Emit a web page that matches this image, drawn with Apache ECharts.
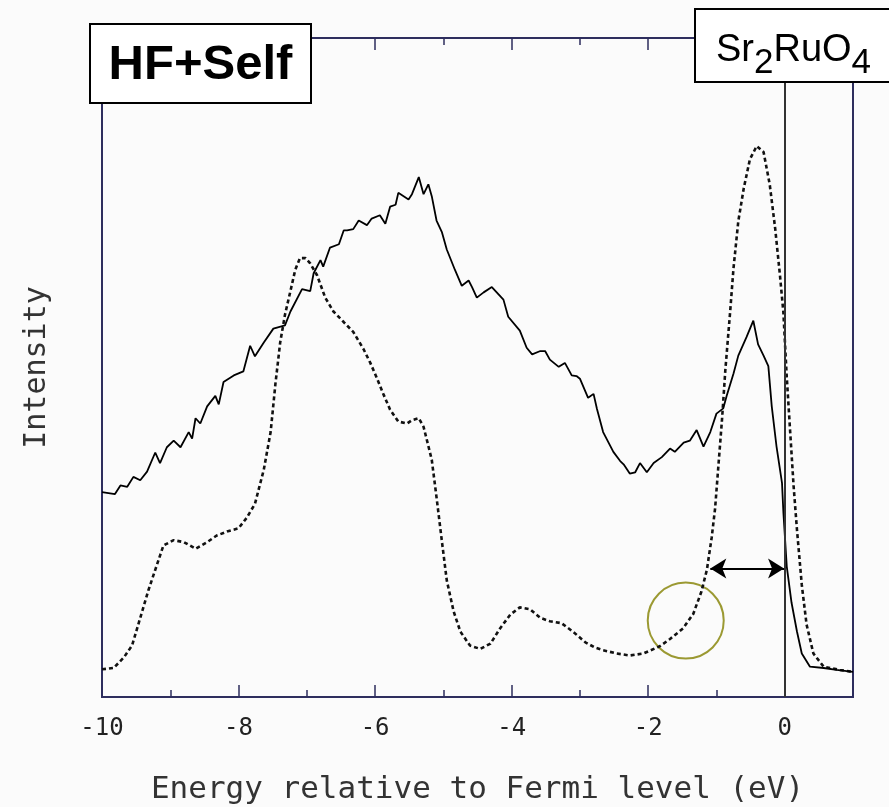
<!DOCTYPE html>
<html>
<head>
<meta charset="utf-8">
<script src="https://cdn.jsdelivr.net/npm/echarts@6/dist/echarts.min.js"></script>
<style>
html,body{margin:0;padding:0;background:#fbfbfb;}
#chart{width:889px;height:807px;}
</style>
</head>
<body>
<div id="chart"></div>
<script>
// Solid curve (experiment)
var solidX = [-10.0,-9.81,-9.73,-9.63,-9.54,-9.44,-9.34,-9.22,-9.15,-9.05,-8.95,-8.85,-8.73,-8.68,-8.63,-8.56,-8.46,-8.34,-8.29,-8.22,-8.07,-7.93,-7.83,-7.76,-7.63,-7.49,-7.32,-7.24,-7.07,-6.95,-6.90,-6.80,-6.76,-6.66,-6.53,-6.46,-6.41,-6.32,-6.24,-6.12,-6.05,-5.93,-5.85,-5.78,-5.70,-5.66,-5.51,-5.46,-5.36,-5.29,-5.22,-5.17,-5.10,-5.02,-4.95,-4.83,-4.73,-4.63,-4.58,-4.51,-4.41,-4.29,-4.12,-4.05,-3.88,-3.78,-3.70,-3.58,-3.51,-3.44,-3.31,-3.22,-3.12,-3.05,-3.00,-2.88,-2.80,-2.75,-2.66,-2.51,-2.41,-2.36,-2.27,-2.19,-2.12,-2.02,-1.92,-1.80,-1.68,-1.61,-1.48,-1.39,-1.29,-1.19,-1.09,-1.00,-0.90,-0.85,-0.75,-0.68,-0.56,-0.46,-0.39,-0.31,-0.24,-0.19,-0.12,-0.04,-0.02,0.03,0.10,0.18,0.25,0.37,0.57,0.76,1.00];
var solidY = [31.1,30.8,32.1,31.9,33.4,32.9,34.2,37.1,35.5,37.9,38.9,37.9,40.2,39.2,42.3,41.5,44.1,45.7,44.4,47.8,48.8,49.4,53.3,51.7,53.8,55.9,56.4,58.5,61.9,61.6,64.3,66.3,65.3,68.2,68.7,70.8,70.8,71.0,72.3,71.6,72.6,73.1,71.8,74.4,74.7,76.5,75.5,76.3,78.9,76.3,77.8,76.0,72.3,70.5,67.9,64.8,62.4,63.2,62.2,60.6,61.4,62.2,60.3,57.7,55.6,53.0,52.0,52.5,52.5,51.2,50.1,50.7,48.8,48.7,48.3,45.4,46.0,43.7,40.2,37.2,35.8,35.3,33.9,34.1,35.5,34.1,35.5,36.4,37.7,37.2,38.6,38.9,40.5,38.0,40.2,43.0,43.8,45.7,49.1,51.8,54.6,57.1,53.5,51.8,50.2,44.1,38.0,32.5,28.1,19.8,14.3,9.9,6.6,4.6,4.4,4.1,3.8];

// Dotted curve (calculation)
var dotX = [-10.0,-9.83,-9.68,-9.56,-9.44,-9.32,-9.22,-9.10,-8.95,-8.80,-8.63,-8.46,-8.32,-8.17,-8.00,-7.88,-7.76,-7.63,-7.53,-7.46,-7.39,-7.32,-7.24,-7.17,-7.10,-7.02,-6.95,-6.85,-6.73,-6.61,-6.46,-6.32,-6.17,-6.07,-5.97,-5.88,-5.78,-5.66,-5.53,-5.46,-5.36,-5.29,-5.22,-5.17,-5.10,-5.02,-4.95,-4.85,-4.75,-4.61,-4.46,-4.31,-4.17,-4.02,-3.88,-3.73,-3.58,-3.44,-3.27,-3.10,-2.92,-2.78,-2.66,-2.46,-2.27,-2.07,-1.83,-1.68,-1.49,-1.34,-1.22,-1.14,-1.07,-1.02,-0.97,-0.92,-0.87,-0.80,-0.75,-0.68,-0.60,-0.51,-0.41,-0.31,-0.22,-0.14,-0.07,-0.02,0.03,0.08,0.13,0.18,0.25,0.32,0.42,0.57,0.81,1.00];
var dotY = [4.2,4.4,6.0,7.8,12.0,16.2,19.3,23.0,23.8,23.5,22.5,23.5,24.5,25.1,25.6,27.2,29.3,34.5,40.2,47.5,53.8,58.0,61.6,64.8,66.6,66.6,65.8,64.0,60.6,58.5,56.9,55.4,52.8,50.7,48.3,46.0,43.6,41.8,41.5,42.0,42.3,41.0,38.1,36.0,30.3,23.5,17.7,13.0,9.9,7.8,7.3,8.1,10.4,12.5,13.6,13.3,12.0,11.5,11.2,9.9,8.3,7.5,7.1,6.6,6.3,6.6,7.7,8.8,10.4,12.6,16.0,19.3,24.2,28.6,35.3,41.9,49.6,58.4,65.1,72.2,77.2,81.6,83.6,82.7,77.8,71.1,64.0,58.4,48.5,40.2,32.0,25.3,17.0,11.0,6.6,4.6,4.1,3.8];

// Axis ticks
var xMin = -10, xMax = 1;
var xLabelValues = [-10, -8, -6, -4, -2, 0];

// Annotations (data units)
var fermiX = 0;
var arrowFrom = [-1.09, 19.5];
var arrowTo = [-0.01, 19.5];
var circlePoint = [-1.45, 11.6];

var texts = {
  xName: 'Energy relative to Fermi level (eV)',
  yName: 'Intensity',
  method: 'HF+Self',
  material: 'Sr{s|2}RuO{s|4}'
};

function zip(a, b) { return a.map(function (v, i) { return [v, b[i]]; }); }

var frameColor = '#2e2e5e';
var monoFont = 'DejaVu Sans Mono';

function tickAxis(pos, interval, len) {
  return {
    type: 'value', position: pos, min: xMin, max: xMax, interval: interval,
    axisLine: { show: false }, splitLine: { show: false },
    axisTick: { show: true, inside: true, length: len, lineStyle: { color: frameColor, width: 1.5 } },
    axisLabel: { show: false }
  };
}

var mainX = tickAxis('bottom', 1, 7);
mainX.axisLabel = {
  show: true, margin: 20, color: '#222', fontFamily: monoFont, fontSize: 24,
  formatter: function (v) { return xLabelValues.indexOf(v) >= 0 ? String(v) : ''; }
};
mainX.name = texts.xName;
mainX.nameLocation = 'middle';
mainX.nameGap = 77;
mainX.nameTextStyle = { color: '#333', fontFamily: monoFont, fontSize: 31 };

var option = {
  backgroundColor: '#fbfbfb',
  animation: false,
  grid: { left: 102, right: 36, top: 38, bottom: 110, show: true, borderColor: frameColor, borderWidth: 2, backgroundColor: '#fbfbfb', outerBoundsMode: 'none', containLabel: false },
  xAxis: [mainX, tickAxis('bottom', 2, 12), tickAxis('top', 1, 7), tickAxis('top', 2, 12)],
  yAxis: {
    type: 'value', min: 0, max: 100,
    axisLine: { show: false }, axisTick: { show: false }, axisLabel: { show: false }, splitLine: { show: false },
    name: texts.yName, nameLocation: 'middle', nameGap: 50,
    nameTextStyle: { color: '#333', fontFamily: monoFont, fontSize: 30 }
  },
  series: [
    {
      type: 'line', name: 'dotted', data: zip(dotX, dotY), symbol: 'none', xAxisIndex: 0,
      lineStyle: { color: '#111', width: 2.6, type: [4, 3] },
      markLine: {
        silent: true, symbol: 'none', label: { show: false },
        lineStyle: { color: '#333', width: 2, type: 'solid' },
        data: [{ xAxis: fermiX }]
      }
    },
    {
      type: 'line', name: 'solid', data: zip(solidX, solidY), symbol: 'none', xAxisIndex: 0,
      lineStyle: { color: '#000', width: 1.8 },
      markLine: {
        silent: true, symbol: ['arrow', 'arrow'], symbolSize: [15, 16], label: { show: false },
        lineStyle: { color: '#000', width: 2, type: 'solid' },
        data: [[{ coord: arrowFrom }, { coord: arrowTo }]]
      }
    },
    {
      type: 'scatter', data: [circlePoint], symbol: 'circle', symbolSize: 76, silent: true,
      itemStyle: { color: 'rgba(0,0,0,0)', borderColor: '#838100', borderWidth: 2 }
    }
  ],
  graphic: [
    {
      type: 'group', left: 89, top: 23, z: 100, children: [
        { type: 'rect', z: 100, shape: { x: 0, y: 0, width: 221, height: 79 }, style: { fill: '#fff', stroke: '#000', lineWidth: 2 } },
        { type: 'text', z: 101, x: 110.5, y: 41, style: { text: texts.method, font: 'bold 49px "Liberation Sans", Arial, sans-serif', fill: '#000', textAlign: 'center', textVerticalAlign: 'middle' } }
      ]
    },
    {
      type: 'group', left: 694, top: 8, z: 100, children: [
        { type: 'rect', z: 100, shape: { x: 0, y: 0, width: 210, height: 73 }, style: { fill: '#fff', stroke: '#000', lineWidth: 2 } },
        { type: 'text', z: 101, x: 21, y: 42, style: {
            text: texts.material, fill: '#000', textAlign: 'left', textVerticalAlign: 'middle',
            fontFamily: '"Liberation Sans", Arial, sans-serif', fontSize: 38, lineHeight: 40,
            rich: { s: { fontFamily: '"Liberation Sans", Arial, sans-serif', fontSize: 35, lineHeight: 36, padding: [24, 0, 0, 0], fill: '#000' } }
          } }
      ]
    }
  ]
};

var chart = echarts.init(document.getElementById('chart'), null, { renderer: 'canvas' });
chart.setOption(option);
</script>
</body>
</html>
